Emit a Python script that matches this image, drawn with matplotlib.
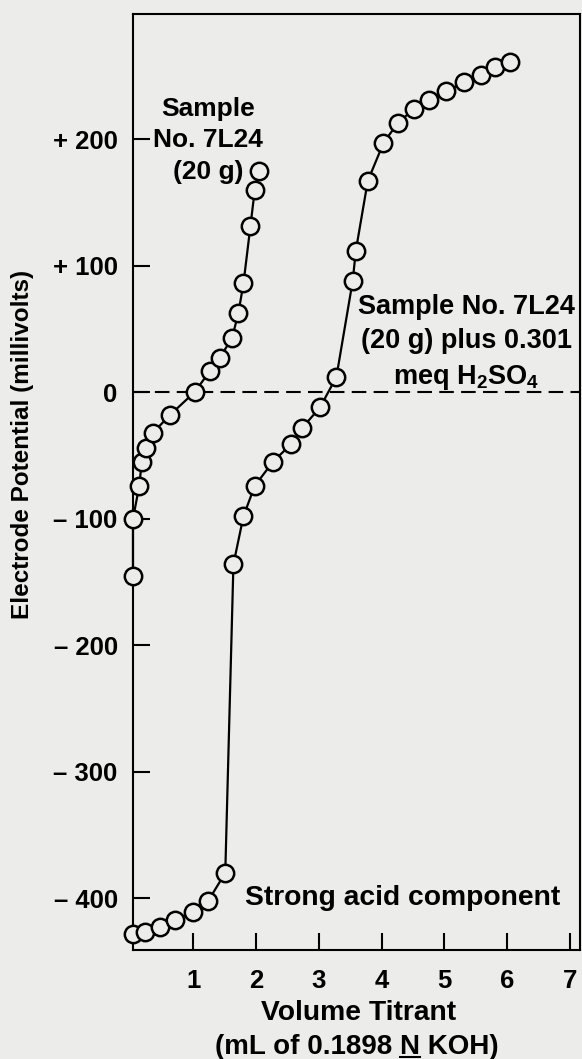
import numpy as np
import matplotlib
matplotlib.use("Agg")
import matplotlib.pyplot as plt
from matplotlib.lines import Line2D

plt.rcParams['font.family'] = ['Liberation Sans', 'DejaVu Sans']
plt.rcParams['font.weight'] = 'bold'
plt.rcParams['mathtext.default'] = 'regular'

BG = '#ecedea'

# Sample No. 7L24 (20 g)
sample_ml = [0.04, 0.04, 0.14, 0.18, 0.25, 0.36, 0.63, 1.02, 1.27, 1.42,
             1.62, 1.72, 1.80, 1.91, 1.98, 2.04]
sample_mv = [-145, -100, -74, -55, -44, -32, -18, 0, 17, 27,
             43, 63, 86, 131, 160, 175]

# Sample No. 7L24 (20 g) plus 0.301 meq H2SO4
acid_ml = [0.04, 0.23, 0.47, 0.71, 1.00, 1.24, 1.51, 1.64, 1.80, 1.98,
           2.27, 2.56, 2.74, 3.02, 3.28, 3.54, 3.59, 3.78, 4.03, 4.26,
           4.52, 4.76, 5.03, 5.32, 5.58, 5.80, 6.04]
acid_mv = [-428, -427, -423, -417, -411, -402, -380, -136, -98, -74,
           -55, -41, -28, -12, 12, 88, 112, 167, 197, 213,
           224, 231, 238, 245, 251, 257, 261]

x_ticks = [1, 2, 3, 4, 5, 6, 7]
y_ticks = [-400, -300, -200, -100, 0, 100, 200]
y_tick_labels = ['\u2013 400', '\u2013 300', '\u2013 200', '\u2013 100', '0', '+ 100', '+ 200']

fig = plt.figure(figsize=(5.82, 10.59), dpi=100, facecolor=BG)
ax = fig.add_axes([0.2285, 0.1029, 0.768, 0.8839])
ax.set_facecolor(BG)

ax.axhline(0, color='black', lw=1.5, linestyle=(0, (7, 3.5)), zorder=1)

style = dict(color='black', lw=1.6, marker='o', markersize=12.5,
             markerfacecolor=BG, markeredgecolor='black', markeredgewidth=1.8,
             zorder=3, clip_on=False)
ax.plot(sample_ml, sample_mv, **style)
ax.plot(acid_ml, acid_mv, **style)

ax.set_xlim(0.04, 7.16)
ax.set_ylim(-441, 299)

ax.set_xticks(x_ticks)
ax.set_xticklabels([str(v) for v in x_ticks])
ax.set_yticks(y_ticks)
ax.set_yticklabels(y_tick_labels)
ax.tick_params(direction='in', length=12, width=1.5, labelsize=18.5, colors='black')
ax.tick_params(axis='x', pad=14)
ax.tick_params(axis='y', pad=11)
for s in ax.spines.values():
    s.set_linewidth(1.5)

ax.set_ylabel('Electrode Potential (millivolts)', fontsize=17.5, fontweight='bold')
ax.yaxis.set_label_coords(-0.222, 0.54)

ax.text(1.24, 199, 'Sample\nNo. 7L24\n(20 g)', ha='center', va='center',
        fontsize=19, linespacing=1.38)
ax.text(5.35, 39, 'Sample No. 7L24\n(20 g) plus 0.301\nmeq H$_2$SO$_4$', ha='center',
        va='center', fontsize=19.5, linespacing=1.42)
ax.text(1.83, -400, 'Strong acid component', ha='left', va='center', fontsize=20.3)

# x label, two lines, with the N underlined
t1 = fig.text(0.6155, 1 - 1013 / 1059, 'Volume Titrant', ha='center', va='center', fontsize=20.3)
t2 = fig.text(0.6125, 1 - 1047 / 1059, '(mL of 0.1898 N KOH)', ha='center', va='center',
              fontsize=20)

fig.canvas.draw()
r = fig.canvas.get_renderer()
bb = t2.get_window_extent(r)
tmp = fig.text(0, 0, '(mL of 0.1898 N', fontsize=20)
w_pre = tmp.get_window_extent(r).width
tmp.set_text('N')
w_n = tmp.get_window_extent(r).width
tmp.remove()
fw, fh = fig.get_size_inches() * fig.dpi
x_end = (bb.x0 + w_pre) / fw
x_start = (bb.x0 + w_pre - w_n) / fw
y_u = (bb.y0 + 3) / fh
fig.add_artist(Line2D([x_start, x_end], [y_u, y_u], color='black', lw=1.5,
                      transform=fig.transFigure))

fig.savefig('out.png', dpi=100, facecolor=BG)
